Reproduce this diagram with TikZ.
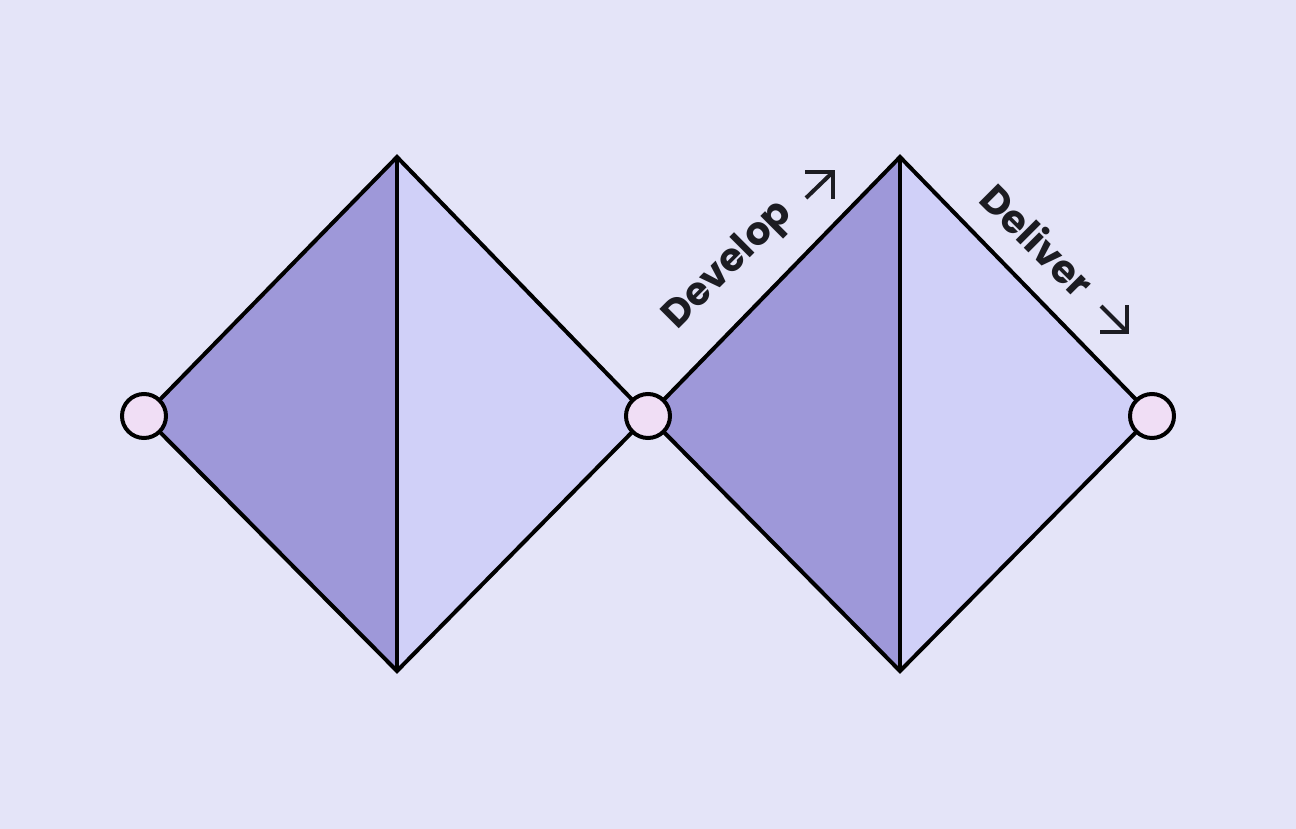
\documentclass[tikz,border=0pt]{standalone}
\usepackage{fontspec}
\setmainfont{Poppins}
\definecolor{bgc}{HTML}{E4E4F8}
\definecolor{darkp}{HTML}{9E98D9}
\definecolor{lightp}{HTML}{D0D0F8}
\definecolor{dotc}{HTML}{F0DEF5}
\definecolor{inkc}{HTML}{000000}
\definecolor{textc}{HTML}{1C1C22}
\begin{document}
\begin{tikzpicture}[x=1pt,y=-1pt,
  edge/.style={draw=inkc,line width=4pt,line join=miter},
  dot/.style={circle,draw=inkc,line width=4pt,fill=dotc,minimum size=44pt,inner sep=0pt},
  lab/.style={font=\fontsize{39}{39}\selectfont\bfseries,text=textc,inner sep=0pt},
  arr/.style={draw=textc,line width=4pt}]
\fill[bgc] (0,0) rectangle (1296,829);
\useasboundingbox (0,0) rectangle (1296,829);
\coordinate (l1) at (144,416);
\coordinate (t1) at (397,157);
\coordinate (b1) at (397,671);
\coordinate (r1) at (648,416);
\coordinate (t2) at (900,157);
\coordinate (b2) at (900,671);
\coordinate (r2) at (1152,416);
\fill[darkp] (l1) -- (t1) -- (b1) -- cycle;
\fill[lightp] (t1) -- (r1) -- (b1) -- cycle;
\fill[darkp] (r1) -- (t2) -- (b2) -- cycle;
\fill[lightp] (t2) -- (r2) -- (b2) -- cycle;
\draw[edge] (l1) -- (t1) -- (r1) -- (b1) -- cycle;
\draw[edge] (t1) -- (b1);
\draw[edge] (r1) -- (t2) -- (r2) -- (b2) -- cycle;
\draw[edge] (t2) -- (b2);
\node[dot] (c1) at (l1) {};
\node[dot] (c2) at (r1) {};
\node[dot] (c3) at (r2) {};
\node[lab,rotate=45] (dev) at (729,266) {Develop};
\node[lab,rotate=-45] (del) at (1038,240) {Deliver};
% arrows
\coordinate (da0) at (806,198);
\coordinate (da1) at (833,172);
\draw[arr] (da0) -- (da1);
\draw[arr] (805,172) -- (da1) -- (833,199);
\coordinate (ea0) at (1101,306);
\coordinate (ea1) at (1127,332);
\draw[arr] (ea0) -- (ea1);
\draw[arr] (1127,305) -- (ea1) -- (1100,332);
\end{tikzpicture}
\end{document}
